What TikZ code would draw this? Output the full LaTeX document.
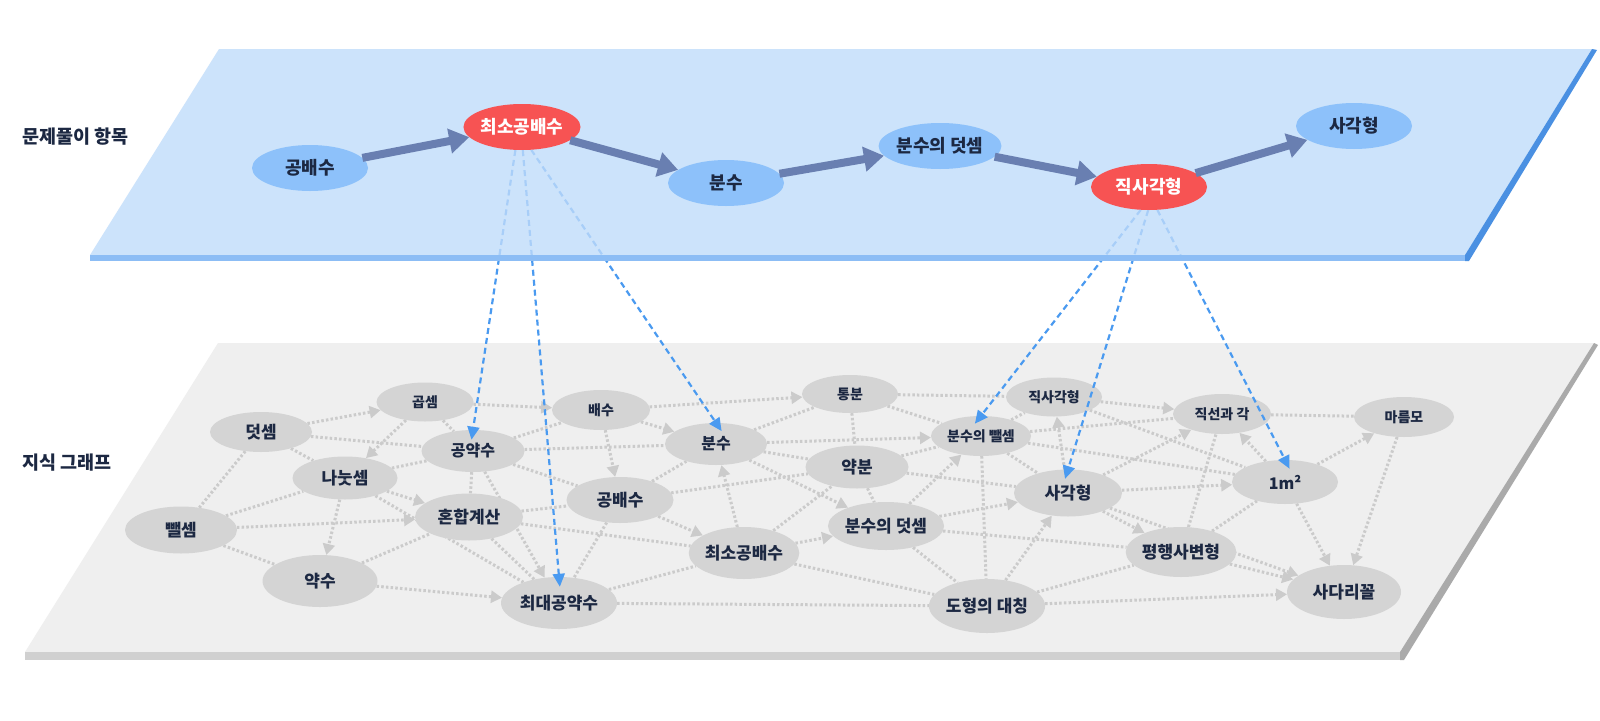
\documentclass[tikz,border=0pt]{standalone}
\usepackage{fontspec}
\setmainfont{Noto Sans CJK KR}
\usetikzlibrary{arrows.meta,shapes.geometric}
\definecolor{tplanec}{RGB}{192,220,250}
\definecolor{tstrip}{RGB}{140,189,245}
\definecolor{tside}{RGB}{74,144,226}
\definecolor{tnodec}{RGB}{141,193,250}
\definecolor{rednode}{RGB}{247,83,83}
\definecolor{thickc}{RGB}{105,127,177}
\definecolor{navy}{RGB}{28,40,66}
\definecolor{gplanec}{RGB}{239,239,239}
\definecolor{gstrip}{RGB}{208,208,208}
\definecolor{gside}{RGB}{170,170,170}
\definecolor{gnodec}{RGB}{212,212,212}
\definecolor{gline}{RGB}{203,203,203}
\definecolor{bline}{RGB}{74,154,240}
\pgfdeclarelayer{bgplane}
\pgfdeclarelayer{gedge}
\pgfdeclarelayer{gnodes}
\pgfdeclarelayer{conn}
\pgfdeclarelayer{tplane}
\pgfsetlayers{bgplane,gedge,gnodes,conn,tplane,main}
\tikzset{
  tn/.style={ellipse, fill=tnodec, minimum width=116pt, minimum height=46pt, inner sep=0pt, text=navy, font=\bfseries\fontsize{18}{18}\selectfont},
  tr/.style={tn, fill=rednode, text=white},
  gn/.style={ellipse, fill=gnodec, inner sep=0pt, text=navy, font=\bfseries\fontsize{17}{17}\selectfont},
  gm/.style={gn, font=\bfseries\fontsize{16}{16}\selectfont},
  gsm/.style={gn, font=\bfseries\fontsize{14}{14}\selectfont},
  gedge/.style={draw=gline, line width=3pt, dash pattern=on 2.5pt off 2.2pt},
  garr/.style={gedge, -{Triangle[length=11pt,width=12pt]}},
  bdash/.style={draw=bline, line width=2.2pt, dash pattern=on 6pt off 4pt, -{Triangle[length=13pt,width=12pt]}, shorten >=-10pt},
  tarr/.style={draw=thickc, line width=8pt, -{Triangle[length=20pt,width=24pt]}},
  lbl/.style={anchor=west, text=navy, font=\bfseries\fontsize{18.5}{18.5}\selectfont}
}
\begin{document}
\begin{tikzpicture}[x=1pt,y=-1pt]
\useasboundingbox (0,0) rectangle (1600,720);
\begin{pgfonlayer}{bgplane}
\fill[white] (0,0) rectangle (1600,720);
\fill[gplanec] (218,343) -- (1594,343) -- (1400,652) -- (25,652) -- cycle;
\fill[gstrip] (25,652) rectangle (1400,660);
\fill[gside] (1594,343) -- (1598,345) -- (1404,660) -- (1400,660) -- (1400,652) -- cycle;
\end{pgfonlayer}
\begin{pgfonlayer}{tplane}
\fill[tplanec, fill opacity=0.8] (219,49) -- (1592,49) -- (1465,255) -- (90,255) -- cycle;
\fill[tstrip] (90,255) rectangle (1465,261);
\fill[tside] (1592,49) -- (1597,50) -- (1469,261) -- (1465,261) -- (1465,255) -- cycle;
\end{pgfonlayer}

\node[lbl] (lab1) at (19,137) {문제풀이 항목};
\node[lbl] (lab2) at (19,463) {지식 그래프};

% top nodes
\node[tn] (tgb) at (310,168) {공배수};
\node[tr] (tcs) at (522,127) {최소공배수};
\node[tn] (tbu) at (726,183) {분수};
\node[tn] (tbd) at (940,146) {분수의 덧셈};
\node[tr] (tjs) at (1149,187) {직사각형};
\node[tn] (tsg) at (1354,126) {사각형};
\draw[tarr] (tgb) -- (tcs);
\draw[tarr] (tcs) -- (tbu);
\draw[tarr] (tbu) -- (tbd);
\draw[tarr] (tbd) -- (tjs);
\draw[tarr] (tjs) -- (tsg);

% bottom nodes
\begin{pgfonlayer}{gnodes}
\node[gn, minimum width=102pt, minimum height=40pt] (dd) at (261,432) {덧셈};
\node[gsm, minimum width=97pt, minimum height=39pt] (gs) at (425,402) {곱셈};
\node[gsm, minimum width=98pt, minimum height=40pt] (bs) at (601,410) {배수};
\node[gsm, minimum width=96pt, minimum height=38pt] (tb) at (850,394) {통분};
\node[gsm, minimum width=96pt, minimum height=39pt] (jsg) at (1054,397) {직사각형};
\node[gsm, minimum width=98pt, minimum height=40pt] (jg) at (1222,414) {직선과 각};
\node[gsm, minimum width=100pt, minimum height=40pt] (mr) at (1404,417) {마름모};
\node[gm, minimum width=103pt, minimum height=42pt] (gy) at (473,451) {공약수};
\node[gm, minimum width=102pt, minimum height=42pt] (bu) at (716,444) {분수};
\node[gsm, minimum width=100pt, minimum height=40pt] (bb) at (981,436) {분수의 뺄셈};
\node[gn, minimum width=103pt, minimum height=43pt] (yb) at (857,467) {약분};
\node[gm, minimum width=106pt, minimum height=44pt] (m2) at (1285,482) {1m²};
\node[gn, minimum width=105pt, minimum height=43pt] (nn) at (345,478) {나눗셈};
\node[gn, minimum width=112pt, minimum height=47pt] (pp) at (181,530) {뺄셈};
\node[gn, minimum width=108pt, minimum height=47pt] (hh) at (469,517) {혼합계산};
\node[gn, minimum width=107pt, minimum height=46pt] (gb) at (620,500) {공배수};
\node[gn, minimum width=108pt, minimum height=47pt] (sg) at (1068,493) {사각형};
\node[gn, minimum width=110pt, minimum height=52pt] (cs) at (744,553) {최소공배수};
\node[gn, minimum width=110pt, minimum height=48pt] (bd) at (886,526) {분수의 덧셈};
\node[gn, minimum width=110pt, minimum height=50pt] (ph) at (1181,552) {평행사변형};
\node[gn, minimum width=115pt, minimum height=52pt] (ys) at (320,581) {약수};
\node[gn, minimum width=116pt, minimum height=52pt] (cd) at (559,603) {최대공약수};
\node[gn, minimum width=116pt, minimum height=54pt] (dc) at (987,606) {도형의 대칭};
\node[gn, minimum width=114pt, minimum height=54pt] (sd) at (1344,592) {사다리꼴};
\end{pgfonlayer}

\begin{pgfonlayer}{gedge}
\foreach \a/\b in {dd/gy, dd/nn, dd/pp, gs/gy, nn/gy, pp/nn, pp/ys, ys/hh, hh/cd, nn/cd, gy/hh, gy/bu, gy/bs, gy/gb, hh/cs, hh/gb, gb/bu, gb/yb, gb/cd, cs/yb, cs/dc, cd/cs, cd/dc, bu/tb, bu/yb, tb/yb, tb/jsg, tb/bb, yb/bd, yb/sg, yb/bb, jsg/m2, bb/jg, bb/m2, bb/sg, bb/dc, bd/ph, bd/dc, dc/ph, ph/m2, jg/mr, bb/jsg, ph/jg}
  \draw[gedge] (\a) -- (\b);
\foreach \a/\b in {dd/gs, gs/nn, gs/bs, nn/hh, nn/ys, pp/hh, ys/cd, gy/cd, bs/bu, bs/gb, bs/tb, gb/cs, cs/bu, cs/bd, bu/bb, bu/bd, jsg/jg, sg/jsg, sg/jg, sg/m2, sg/ph, sg/sd, bd/sg, bd/bb, dc/sg, dc/sd, ph/sd, m2/jg, m2/mr, m2/sd, mr/sd}
  \draw[garr] (\a) -- (\b);
\end{pgfonlayer}

\begin{pgfonlayer}{conn}
\draw[bdash] (tcs.254) -- (gy.north);
\draw[bdash] (tcs.272) -- (cd.north);
\draw[bdash] (tcs.292) -- (bu.north);
\draw[bdash] (tjs.250) -- (bb.north);
\draw[bdash] (tjs.268) -- (sg.north);
\draw[bdash] (tjs.290) -- (m2.north);
\end{pgfonlayer}
\end{tikzpicture}
\end{document}
